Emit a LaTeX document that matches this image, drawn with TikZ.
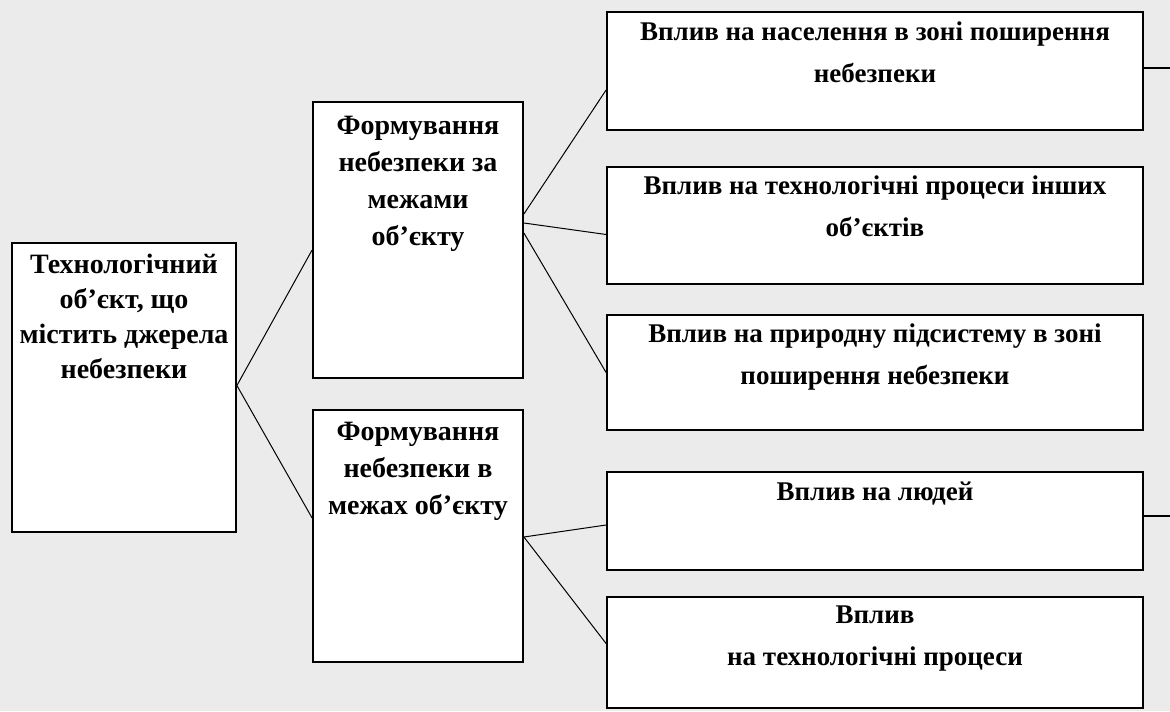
\documentclass[tikz,border=0pt]{standalone}
\usepackage{fontspec}
\setmainfont{Liberation Serif}
\usetikzlibrary{calc}
\definecolor{bgc}{HTML}{EBEBEB}
\tikzset{
  box/.style={draw=black, line width=0.9pt, fill=white, rectangle, inner sep=0pt},
  txt/.style={anchor=north, align=center, font=\bfseries\fontsize{14}{17.5}\selectfont, inner sep=0pt},
  mtxt/.style={txt, font=\bfseries\fontsize{14}{18.5}\selectfont},
  wtxt/.style={txt, font=\bfseries\fontsize{13.5}{21}\selectfont},
  link/.style={draw=black, line width=0.5pt}
}
\begin{document}
\begin{tikzpicture}[x=0.5pt, y=-0.5pt]
\fill[bgc] (0,0) rectangle (1170,711);
\useasboundingbox (0,0) rectangle (1170,711);

\node[box, minimum width=112pt, minimum height=144.5pt] (A) at (124,387.5) {};
\node[box, minimum width=105pt, minimum height=138pt] (B) at (418,240) {};
\node[box, minimum width=105pt, minimum height=126pt] (C) at (418,536) {};
\node[box, minimum width=268pt, minimum height=59pt] (D1) at (875,71) {};
\node[box, minimum width=268pt, minimum height=58.5pt] (D2) at (875,225.5) {};
\node[box, minimum width=268pt, minimum height=57.5pt] (D3) at (875,372.5) {};
\node[box, minimum width=268pt, minimum height=49pt] (D4) at (875,521) {};
\node[box, minimum width=268pt, minimum height=55.5pt] (D5) at (875,652.5) {};

\node[txt] (At) at ([yshift=-6pt]A.north) {Технологічний\\об’єкт, що\\містить джерела\\небезпеки};
\node[mtxt] (Bt) at ([yshift=-7.5pt]B.north) {Формування\\небезпеки за\\межами\\об’єкту};
\node[mtxt] (Ct) at ([yshift=-6.5pt]C.north) {Формування\\небезпеки в\\межах об’єкту};
\node[wtxt] (D1t) at ([yshift=-5pt]D1.north) {Вплив на населення в зоні поширення\\небезпеки};
\node[wtxt] (D2t) at ([yshift=-4.5pt]D2.north) {Вплив на технологічні процеси інших\\об’єктів};
\node[wtxt] (D3t) at ([yshift=-4.5pt]D3.north) {Вплив на природну підсистему в зоні\\поширення небезпеки};
\node[wtxt] (D4t) at ([yshift=-5pt]D4.north) {Вплив на людей};
\node[wtxt] (D5t) at ([yshift=-4.5pt]D5.north) {Вплив\\на технологічні процеси};

\draw[link] ([yshift=1pt]A.east) -- ([yshift=-5pt]B.west);
\draw[link] ([yshift=1pt]A.east) -- ([yshift=9pt]C.west);
\draw[link] ([yshift=13pt]B.east) -- ([yshift=-9.5pt]D1.west);
\draw[link] ([yshift=8.5pt]B.east) -- ([yshift=-4.5pt]D2.west);
\draw[link] ([yshift=3.5pt]B.east) -- (D3.west);
\draw[link] ([yshift=-0.5pt]C.east) -- ([yshift=-2pt]D4.west);
\draw[link] ([yshift=-0.5pt]C.east) -- ([yshift=4.5pt]D5.west);

\coordinate (E1) at (1170,68);
\coordinate (E4) at (1170,516);
\draw[link, line width=0.8pt] ([yshift=1.5pt]D1.east) -- (E1);
\draw[link, line width=0.8pt] ([yshift=2.5pt]D4.east) -- (E4);
\end{tikzpicture}
\end{document}
